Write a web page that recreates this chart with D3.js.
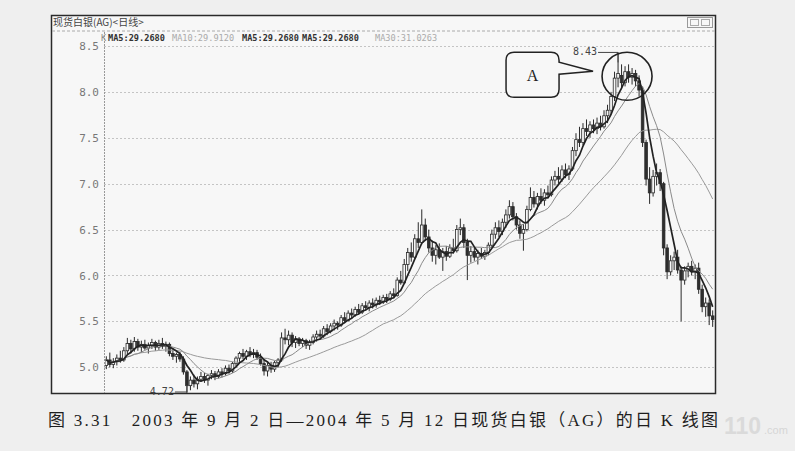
<!DOCTYPE html>
<html>
<head>
<meta charset="utf-8">
<script src="https://cdn.jsdelivr.net/npm/d3@7"></script>
<style>
  body{margin:0;background:#efefef;}
  svg{display:block;}
</style>
</head>
<body>
<svg id="chart" width="795" height="451"></svg>
<script>
// daily K line, 2003-09-02 .. 2004-05-12, rows are [open, high, low, close]
var ohlc=[
[5.02,5.12,4.98,5.08],[5.08,5.16,5.00,5.03],[5.03,5.10,4.99,5.06],[5.06,5.14,5.02,5.10],
[5.10,5.18,5.05,5.08],[5.08,5.22,5.06,5.18],[5.18,5.32,5.14,5.26],[5.26,5.30,5.15,5.20],
[5.20,5.33,5.17,5.28],[5.28,5.31,5.18,5.22],[5.22,5.29,5.16,5.25],[5.25,5.30,5.19,5.21],
[5.21,5.27,5.15,5.24],[5.24,5.31,5.20,5.27],[5.27,5.29,5.18,5.22],[5.22,5.30,5.19,5.26],
[5.26,5.32,5.20,5.23],[5.23,5.28,5.17,5.25],[5.25,5.27,5.12,5.15],[5.15,5.20,5.08,5.12],
[5.12,5.16,5.05,5.14],[5.14,5.17,5.06,5.09],[5.09,5.12,4.92,4.95],[4.95,4.97,4.72,4.80],
[4.80,4.90,4.75,4.86],[4.86,4.92,4.78,4.82],[4.82,4.90,4.76,4.87],[4.87,4.95,4.84,4.90],
[4.90,4.94,4.83,4.86],[4.86,4.93,4.80,4.91],[4.91,4.97,4.87,4.93],[4.93,4.96,4.86,4.90],
[4.90,4.98,4.88,4.95],[4.95,4.99,4.89,4.93],[4.93,5.02,4.91,4.99],[4.99,5.03,4.93,4.96],
[4.96,5.06,4.94,5.04],[5.04,5.12,5.01,5.10],[5.10,5.17,5.06,5.15],[5.15,5.20,5.09,5.12],
[5.12,5.19,5.08,5.17],[5.17,5.22,5.11,5.14],[5.14,5.20,5.10,5.16],[5.16,5.19,5.08,5.11],
[5.11,5.15,5.02,5.04],[5.04,5.08,4.91,4.96],[4.96,5.05,4.90,5.02],[5.02,5.06,4.94,4.98],
[4.98,5.07,4.95,5.05],[5.05,5.10,5.00,5.08],[5.08,5.38,5.06,5.32],[5.32,5.42,5.25,5.30],
[5.30,5.40,5.24,5.35],[5.35,5.38,5.22,5.27],[5.27,5.34,5.21,5.31],[5.31,5.33,5.23,5.26],
[5.26,5.32,5.22,5.29],[5.29,5.31,5.20,5.24],[5.24,5.30,5.19,5.27],[5.27,5.36,5.25,5.33],
[5.33,5.40,5.28,5.36],[5.36,5.41,5.30,5.34],[5.34,5.45,5.32,5.42],[5.42,5.47,5.35,5.39],
[5.39,5.48,5.37,5.45],[5.45,5.52,5.40,5.48],[5.48,5.50,5.41,5.46],[5.46,5.57,5.44,5.54],
[5.54,5.60,5.48,5.51],[5.51,5.62,5.50,5.59],[5.59,5.64,5.53,5.57],[5.57,5.66,5.55,5.63],
[5.63,5.69,5.58,5.60],[5.60,5.70,5.58,5.67],[5.67,5.72,5.62,5.65],[5.65,5.73,5.61,5.70],
[5.70,5.75,5.64,5.68],[5.68,5.76,5.65,5.73],[5.73,5.78,5.68,5.71],[5.71,5.79,5.69,5.76],
[5.76,5.80,5.70,5.74],[5.74,5.83,5.72,5.80],[5.80,5.86,5.76,5.78],[5.78,5.98,5.77,5.95],
[5.95,6.05,5.90,5.92],[5.92,6.18,5.91,6.12],[6.12,6.30,6.05,6.25],[6.25,6.36,6.15,6.20],
[6.20,6.45,6.18,6.40],[6.40,6.58,6.30,6.36],[6.36,6.72,6.34,6.55],[6.55,6.62,6.38,6.42],
[6.42,6.50,6.25,6.30],[6.30,6.38,6.15,6.22],[6.22,6.33,6.12,6.28],[6.28,6.35,6.18,6.20],
[6.20,6.30,6.05,6.26],[6.26,6.32,6.16,6.21],[6.21,6.34,6.19,6.30],[6.30,6.40,6.24,6.27],
[6.27,6.55,6.25,6.50],[6.50,6.62,6.44,6.52],[6.52,6.56,6.30,6.36],[6.36,6.40,5.95,6.22],
[6.22,6.32,6.14,6.26],[6.26,6.30,6.16,6.20],[6.20,6.28,6.12,6.24],[6.24,6.30,6.18,6.21],
[6.21,6.28,6.17,6.25],[6.25,6.36,6.22,6.33],[6.33,6.50,6.30,6.45],[6.45,6.58,6.40,6.52],
[6.52,6.60,6.42,6.48],[6.48,6.62,6.44,6.58],[6.58,6.72,6.52,6.66],[6.66,6.82,6.62,6.75],
[6.75,6.80,6.60,6.64],[6.64,6.68,6.50,6.55],[6.55,6.60,6.40,6.46],[6.46,6.56,6.27,6.50],
[6.50,6.76,6.48,6.72],[6.72,6.96,6.70,6.85],[6.85,6.92,6.74,6.78],[6.78,6.90,6.72,6.86],
[6.86,6.95,6.78,6.82],[6.82,6.94,6.76,6.90],[6.90,6.98,6.84,6.88],[6.88,7.08,6.86,7.04],
[7.04,7.14,6.98,7.08],[7.08,7.18,7.00,7.05],[7.05,7.20,7.02,7.15],[7.15,7.22,7.06,7.10],
[7.10,7.20,7.04,7.16],[7.16,7.40,7.14,7.36],[7.36,7.55,7.30,7.48],[7.48,7.62,7.40,7.45],
[7.45,7.66,7.42,7.60],[7.60,7.70,7.52,7.57],[7.57,7.68,7.50,7.64],[7.64,7.70,7.55,7.60],
[7.60,7.72,7.54,7.66],[7.66,7.74,7.58,7.62],[7.62,7.80,7.60,7.74],[7.74,7.86,7.66,7.80],
[7.80,8.00,7.76,7.95],[7.95,8.22,7.90,8.15],[8.15,8.43,8.05,8.20],[8.18,8.30,8.04,8.10],
[8.10,8.28,8.06,8.22],[8.22,8.30,8.10,8.16],[8.16,8.26,8.08,8.20],[8.20,8.24,8.06,8.12],
[8.12,8.18,7.95,8.02],[8.02,8.06,7.40,7.45],[7.45,7.48,6.98,7.05],[7.05,7.18,6.78,6.90],
[6.90,7.15,6.86,7.08],[7.08,7.22,6.98,7.12],[7.12,7.16,6.92,7.00],[7.00,7.02,6.22,6.30],
[6.30,6.34,5.96,6.04],[6.04,6.22,6.00,6.16],[6.16,6.26,6.06,6.20],[6.20,6.28,6.02,6.06],
[6.06,6.10,5.50,5.95],[5.95,6.10,5.90,6.05],[6.05,6.14,5.98,6.10],[6.10,6.16,6.00,6.04],
[6.04,6.12,5.96,6.08],[6.08,6.14,5.80,5.85],[5.85,5.90,5.60,5.66],[5.66,5.76,5.55,5.70],
[5.70,5.74,5.46,5.56],[5.56,5.62,5.44,5.52]
]

var yTicks=[5.0,5.5,6.0,6.5,7.0,7.5,8.0,8.5]
var maPeriods=[30,10,5]
var maColors=["#9a9a9a","#8a8a8a","#222"]
var maWidths=[1,1,1.7]

var headerItems=[
  {t:"K",c:"#888",b:false},
  {t:"MA5:29.2680",c:"#333",b:true},
  {t:"MA10:29.9120",c:"#aaa",b:false},
  {t:"MA5:29.2680",c:"#333",b:true},
  {t:"MA5:29.2680",c:"#333",b:true},
  {t:"MA30:31.0263",c:"#aaa",b:false}
]
var headerX=[101,108,172,242,302,375]

var title="现货白银(AG)<日线>"
var caption="图 3.31　2003 年 9 月 2 日—2004 年 5 月 12 日现货白银（AG）的日 K 线图"
var highLabel="8.43", lowLabel="4.72"

var svg=d3.select("#chart")

var x=d3.scaleBand()
  .domain(d3.range(ohlc.length))
  .range([105,714])
  .paddingInner(0.25)

var y=d3.scaleLinear()
  .domain([4.72,8.5])
  .range([393,46])

function cx(i){ return x(i)+x.bandwidth()/2 }

// frame
svg.append("rect")
  .attr("x",51.5).attr("y",15.5)
  .attr("width",664).attr("height",378)
  .attr("fill","#f7f7f7")
  .attr("stroke","#2a2a2a")
  .attr("stroke-width",1.5)

svg.append("line")
  .attr("x1",52).attr("x2",715)
  .attr("y1",31).attr("y2",31)
  .attr("stroke","#aaa").attr("stroke-dasharray","3,2")

svg.append("text")
  .attr("x",53).attr("y",26)
  .attr("font-family","'Noto Sans CJK SC', sans-serif")
  .attr("font-size",10)
  .attr("fill","#444")
  .text(title)

// window buttons top right
svg.append("rect")
  .attr("x",687.5).attr("y",17.5).attr("width",25).attr("height",10)
  .attr("fill","none").attr("stroke","#999")
svg.append("rect")
  .attr("x",690.5).attr("y",19.5).attr("width",8).attr("height",6)
  .attr("fill","none").attr("stroke","#aaa")
svg.append("rect")
  .attr("x",701.5).attr("y",19.5).attr("width",8).attr("height",6)
  .attr("fill","none").attr("stroke","#aaa")

// header MA readings
svg.append("g").selectAll("text")
  .data(headerItems)
  .enter()
  .append("text")
  .attr("x",function(d,i){ return headerX[i] })
  .attr("y",41)
  .attr("font-family","'DejaVu Sans Mono', monospace")
  .attr("font-size",8.6)
  .attr("font-weight",function(d){ return d.b?"bold":"normal" })
  .attr("fill",function(d){ return d.c })
  .text(function(d){ return d.t })

// grid
svg.append("g").selectAll("line")
  .data(yTicks)
  .enter()
  .append("line")
  .attr("x1",104).attr("x2",715)
  .attr("y1",function(d){ return Math.round(y(d))+0.5 })
  .attr("y2",function(d){ return Math.round(y(d))+0.5 })
  .attr("stroke","#c4c4c4")
  .attr("stroke-dasharray","2,2")

svg.append("line")
  .attr("x1",104.5).attr("x2",104.5)
  .attr("y1",32).attr("y2",393)
  .attr("stroke","#999")
  .attr("stroke-dasharray","2,1")

var yAxis=svg.append("g")
  .attr("transform","translate(100,0)")
  .call(d3.axisLeft(y).tickValues(yTicks).tickFormat(d3.format(".1f")).tickSize(0).tickPadding(1))
yAxis.select(".domain").remove()
yAxis.selectAll("text")
  .attr("font-family","'DejaVu Sans Mono', monospace")
  .attr("font-size",11)
  .attr("fill","#777")

svg.append("clipPath").attr("id","plot")
  .append("rect").attr("x",105).attr("y",32).attr("width",610).attr("height",361)

var plot=svg.append("g").attr("clip-path","url(#plot)")

// candles
var candles=plot.append("g").selectAll("g")
  .data(ohlc)
  .enter()
  .append("g")

candles.append("line")
  .attr("x1",function(d,i){ return cx(i) })
  .attr("x2",function(d,i){ return cx(i) })
  .attr("y1",function(d){ return y(d[1]) })
  .attr("y2",function(d){ return y(d[2]) })
  .attr("stroke","#2a2a2a")
  .attr("stroke-width",1)

candles.append("rect")
  .attr("x",function(d,i){ return x(i) })
  .attr("width",x.bandwidth())
  .attr("y",function(d){ return y(Math.max(d[0],d[3])) })
  .attr("height",function(d){ return Math.max(1,Math.abs(y(d[0])-y(d[3]))) })
  .attr("fill",function(d){ return d[3]>=d[0]?"#f7f7f7":"#2e2e2e" })
  .attr("stroke","#2a2a2a")
  .attr("stroke-width",0.8)

// moving averages
var closes=ohlc.map(function(d){ return d[3] })
function movingAvg(n){
  return closes.map(function(c,i){
    var w=closes.slice(Math.max(0,i-n+1),i+1)
    return d3.mean(w)
  })
}
var line=d3.line()
  .x(function(d,i){ return cx(i) })
  .y(function(d){ return y(d) })

maPeriods.forEach(function(n,k){
  plot.append("path")
    .datum(movingAvg(n))
    .attr("d",line)
    .attr("fill","none")
    .attr("stroke",maColors[k])
    .attr("stroke-width",maWidths[k])
})

// high / low markers
var hiIdx=d3.maxIndex(ohlc,function(d){ return d[1] })
var loIdx=d3.minIndex(ohlc,function(d){ return d[2] })

svg.append("path")
  .attr("d","M"+(cx(hiIdx)-20)+","+y(ohlc[hiIdx][1])+"H"+cx(hiIdx)+"V"+(y(ohlc[hiIdx][1])+10))
  .attr("fill","none").attr("stroke","#444")
svg.append("text")
  .attr("x",cx(hiIdx)-21).attr("y",y(ohlc[hiIdx][1])+3)
  .attr("text-anchor","end")
  .attr("font-family","'DejaVu Sans Mono', monospace")
  .attr("font-size",10).attr("fill","#444")
  .text(highLabel)

svg.append("path")
  .attr("d","M"+(cx(loIdx)-12)+","+(y(ohlc[loIdx][2])-1)+"H"+cx(loIdx)+"V"+(y(ohlc[loIdx][2])-8))
  .attr("fill","none").attr("stroke","#444")
svg.append("text")
  .attr("x",cx(loIdx)-13).attr("y",y(ohlc[loIdx][2])+2)
  .attr("text-anchor","end")
  .attr("font-family","'DejaVu Sans Mono', monospace")
  .attr("font-size",10).attr("fill","#444")
  .text(lowLabel)

// circle round the top and callout A
var ringX=cx(hiIdx)+9, ringY=y(8.17)
svg.append("ellipse")
  .attr("cx",ringX).attr("cy",ringY)
  .attr("rx",25).attr("ry",24)
  .attr("fill","none").attr("stroke","#222").attr("stroke-width",1.6)

var bx=ringX-121, by=ringY-24, bw=53, bh=45, r=8
var tipX=ringX-34, tipY=ringY-5
svg.append("path")
  .attr("d","M"+(bx+r)+","+by+"H"+(bx+bw-r)+"Q"+(bx+bw)+","+by+" "+(bx+bw)+","+(by+r)
    +"V"+(by+10)+"L"+tipX+","+tipY+"L"+(bx+bw)+","+(by+22)
    +"V"+(by+bh-r)+"Q"+(bx+bw)+","+(by+bh)+" "+(bx+bw-r)+","+(by+bh)
    +"H"+(bx+r)+"Q"+bx+","+(by+bh)+" "+bx+","+(by+bh-r)
    +"V"+(by+r)+"Q"+bx+","+by+" "+(bx+r)+","+by+"Z")
  .attr("fill","#f7f7f7").attr("stroke","#222").attr("stroke-width",1.5)
svg.append("text")
  .attr("x",bx+bw/2).attr("y",by+bh/2+6)
  .attr("text-anchor","middle")
  .attr("font-family","'Liberation Serif', serif")
  .attr("font-size",16).attr("fill","#222")
  .text("A")

// caption
svg.append("text")
  .attr("x",48).attr("y",426)
  .attr("font-family","'Liberation Serif', 'Noto Sans CJK SC', serif")
  .attr("font-size",17)
  .attr("fill","#1e1e1e")
  .attr("textLength",670)
  .attr("lengthAdjust","spacing")
  .text(caption)

// faint watermark, kept clear of the caption
svg.append("text")
  .attr("x",724).attr("y",434)
  .attr("font-family","'Liberation Sans', sans-serif")
  .attr("font-size",23).attr("font-weight","bold")
  .attr("fill","#d6d6d6").attr("opacity",0.8)
  .text("110")
svg.append("text")
  .attr("x",764).attr("y",434)
  .attr("font-family","'Liberation Sans', sans-serif")
  .attr("font-size",11)
  .attr("fill","#d6d6d6")
  .text(".com")
</script>
</body>
</html>
